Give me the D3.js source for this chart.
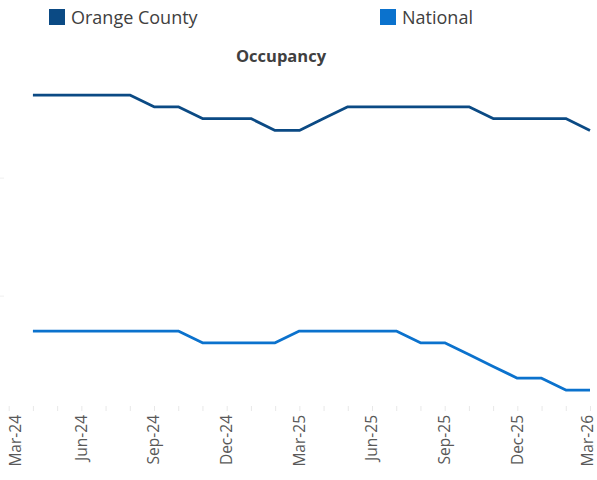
<!DOCTYPE html>
<html>
<head>
<meta charset="utf-8">
<script src="https://cdn.jsdelivr.net/npm/d3@7"></script>
<style>
  body { margin: 0; background: #fff; }
  svg { display: block; }
</style>
</head>
<body>
<svg id="svg" width="597" height="480"></svg>
<script>
// occupancy %, Apr-24 .. Mar-26
const months = ['Apr-24', 'May-24', 'Jun-24', 'Jul-24', 'Aug-24', 'Sep-24', 'Oct-24', 'Nov-24',
  'Dec-24', 'Jan-25', 'Feb-25', 'Mar-25', 'Apr-25', 'May-25', 'Jun-25', 'Jul-25', 'Aug-25',
  'Sep-25', 'Oct-25', 'Nov-25', 'Dec-25', 'Jan-26', 'Feb-26', 'Mar-26']
const orangeCounty = [77, 77, 77, 77, 77, 76, 76, 75, 75, 75, 74, 74, 75, 76, 76, 76, 76, 76, 76, 75, 75, 75, 75, 74]
const national = [57, 57, 57, 57, 57, 57, 57, 56, 56, 56, 56, 57, 57, 57, 57, 57, 56, 56, 55, 54, 53, 53, 52, 52]
const axisMonths = ['Mar-24'].concat(months)
const tickLabels = ['Mar-24', 'Jun-24', 'Sep-24', 'Dec-24', 'Mar-25', 'Jun-25', 'Sep-25', 'Dec-25', 'Mar-26']
const yTicks = [60, 70]

const series = [
  { name: 'Orange County', values: orangeCounty, color: '#0b4a84' },
  { name: 'National', values: national, color: '#0b72cd' }
]

const svg = d3.select('#svg')

const xScale = d3.scalePoint()
  .domain(axisMonths)
  .range([8.7, 590])

const yScale = d3.scaleLinear()
  .domain([50, 80])
  .range([413.6, 59.6])

// faint y ticks (labels sit outside the crop)
svg.append('g')
  .attr('transform', 'translate(4,0)')
  .call(d3.axisLeft(yScale).tickValues(yTicks).tickSize(4).tickFormat(''))
  .call(g => g.select('.domain').remove())
  .call(g => g.selectAll('line').attr('stroke', '#efefef'))

// x axis: monthly tick marks, quarterly labels
const xAxis = svg.append('g')
  .attr('transform', 'translate(0,411)')
  .call(d3.axisBottom(xScale).tickSizeInner(-5).tickSizeOuter(0).tickFormat(''))
xAxis.select('.domain').remove()
xAxis.selectAll('line').attr('stroke', '#e8e8e8')

// keep end labels inside the frame
const clampX = x => Math.min(Math.max(x, 16), 588)

svg.append('g')
  .selectAll('text')
  .data(tickLabels)
  .join('text')
  .attr('transform', d => `translate(${clampX(xScale(d))},415) rotate(-90)`)
  .attr('text-anchor', 'end')
  .attr('dy', '0.35em')
  .attr('font-family', 'Open Sans, sans-serif')
  .attr('font-size', 15.5)
  .attr('fill', '#595959')
  .text(d => d)

const lineGen = d3.line()
  .x((d, i) => xScale(months[i]))
  .y(d => yScale(d))
  .curve(d3.curveLinear)

svg.append('g')
  .selectAll('path')
  .data(series)
  .join('path')
  .attr('d', d => lineGen(d.values))
  .attr('stroke', d => d.color)
  .attr('stroke-width', 2.75)
  .attr('stroke-linejoin', 'round')
  .attr('fill', 'none')

// title
svg.append('text')
  .attr('x', 281)
  .attr('y', 62)
  .attr('text-anchor', 'middle')
  .attr('font-family', 'Open Sans, sans-serif')
  .attr('font-weight', 'bold')
  .attr('font-size', 16.5)
  .attr('fill', '#404040')
  .text('Occupancy')

// legend
const legendX = [49, 380]
const legend = svg.append('g')
  .selectAll('g')
  .data(series)
  .join('g')
  .attr('transform', (d, i) => `translate(${legendX[i]},9)`)
legend.append('rect')
  .attr('width', 16)
  .attr('height', 16)
  .attr('fill', d => d.color)
legend.append('text')
  .attr('x', 22)
  .attr('y', 14.5)
  .attr('font-family', 'Open Sans, sans-serif')
  .attr('font-size', 18)
  .attr('fill', '#404040')
  .text(d => d.name)
</script>
</body>
</html>
